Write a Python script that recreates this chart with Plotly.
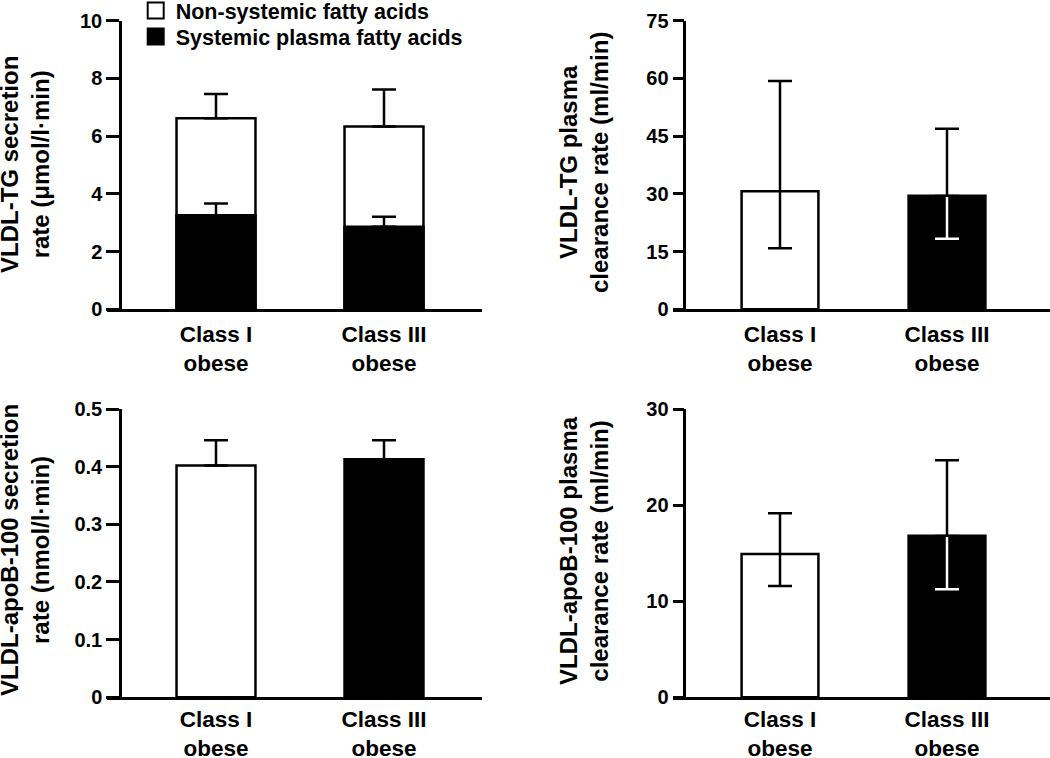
import plotly.graph_objects as go

W, H = 1050, 758
FONT = "Liberation Sans, Arial, Helvetica, sans-serif"

# ---------------- data ----------------
categories = ["Class I<br>obese", "Class III<br>obese"]
bar_fills = ["white", "black"]

# Panel A: VLDL-TG secretion rate (µmol/l·min), stacked
tg_systemic = [3.26, 2.86]
tg_systemic_err = [0.41, 0.35]
tg_nonsystemic = [3.36, 3.47]
tg_total_err = [0.84, 1.29]
ticks_a = [0, 2, 4, 6, 8, 10]

# Panel B: VLDL-TG plasma clearance rate (ml/min)
tg_clear = [30.7, 29.5]
tg_clear_err_up = [28.6, 17.4]
tg_clear_err_down = [14.85, 11.15]
ticks_b = [0, 15, 30, 45, 60, 75]

# Panel C: VLDL-apoB-100 secretion rate (nmol/l·min)
apob_secr = [0.402, 0.413]
apob_secr_err_up = [0.044, 0.033]
ticks_c = [0, 0.1, 0.2, 0.3, 0.4, 0.5]

# Panel D: VLDL-apoB-100 plasma clearance rate (ml/min)
apob_clear = [14.9, 16.8]
apob_clear_err_up = [4.25, 7.86]
apob_clear_err_down = [3.32, 5.56]
ticks_d = [0, 10, 20, 30]

legend_names = ["Non-systemic fatty acids", "Systemic plasma fatty acids"]
titles = [
    "VLDL-TG secretion<br>rate (μmol/l·min)",
    "VLDL-TG plasma<br>clearance rate (ml/min)",
    "VLDL-apoB-100 secretion<br>rate (nmol/l·min)",
    "VLDL-apoB-100 plasma<br>clearance rate (ml/min)",
]

# ---------------- styling helpers ----------------
LW = 2.5
CAP = 12
BAR_W_LEFT = 0.47
BAR_W_RIGHT = 0.46


def px(x):
    return x / W


def py(y):
    return 1 - y / H


def err_trace(xa, ya, x, y, up, down, color):
    return go.Scatter(
        x=x, y=y, xaxis=xa, yaxis=ya, mode="markers",
        marker=dict(color="rgba(0,0,0,0)", size=1),
        error_y=dict(type="data", symmetric=False, array=up, arrayminus=down,
                     color=color, thickness=LW, width=CAP),
        showlegend=False, hoverinfo="skip",
    )


fig = go.Figure()

# ----- Panel A (overlay: total white bar, then systemic black bar) -----
tg_total = [s + n for s, n in zip(tg_systemic, tg_nonsystemic)]
fig.add_trace(go.Bar(x=categories, y=tg_total, xaxis="x", yaxis="y", width=BAR_W_LEFT,
                     marker=dict(color="white", line=dict(color="black", width=LW)),
                     showlegend=False, hoverinfo="skip"))
fig.add_trace(err_trace("x", "y", categories, tg_total, tg_total_err, [0, 0], "black"))
fig.add_trace(go.Bar(x=categories, y=tg_systemic, xaxis="x", yaxis="y", width=BAR_W_LEFT,
                     marker=dict(color="black", line=dict(color="black", width=LW)),
                     showlegend=False, hoverinfo="skip"))
fig.add_trace(err_trace("x", "y", categories, tg_systemic, tg_systemic_err, [0, 0], "black"))
# legend entries (one legend per row for exact placement)
for name, fill, lg in zip(legend_names, bar_fills, ["legend", "legend2"]):
    fig.add_trace(go.Scatter(x=[None], y=[None], xaxis="x", yaxis="y", mode="markers", name=name,
                             legend=lg, showlegend=True,
                             marker=dict(symbol="square", size=16, color=fill,
                                         line=dict(color="black", width=2))))


def simple_panel(xa, ya, values, up, down, bw):
    fig.add_trace(go.Bar(x=categories, y=values, xaxis=xa, yaxis=ya, width=bw,
                         marker=dict(color=bar_fills, line=dict(color="black", width=LW)),
                         showlegend=False, hoverinfo="skip"))
    # downward parts inside black bars drawn in white
    wx = [c for c, f in zip(categories, bar_fills) if f == "black"]
    wy = [v for v, f in zip(values, bar_fills) if f == "black"]
    wd = [d for d, f in zip(down, bar_fills) if f == "black"]
    if any(wd):
        fig.add_trace(err_trace(xa, ya, wx, wy, [0] * len(wx), wd, "white"))
    bd = [d if f == "white" else 0 for d, f in zip(down, bar_fills)]
    fig.add_trace(err_trace(xa, ya, categories, values, up, bd, "black"))


simple_panel("x2", "y2", tg_clear, tg_clear_err_up, tg_clear_err_down, BAR_W_RIGHT)
simple_panel("x3", "y3", apob_secr, apob_secr_err_up, [0, 0], BAR_W_LEFT)
simple_panel("x4", "y4", apob_clear, apob_clear_err_up, apob_clear_err_down, BAR_W_RIGHT)

# ---------------- axes ----------------
left_dom = [px(107), px(482)]
right_dom = [px(673), 1.0]
left_range = [-(216 - 107) / 168, -(216 - 107) / 168 + 375 / 168]
right_range = [-(780 - 673) / 167, -(780 - 673) / 167 + 377 / 167]
top_dom = [py(309.3), py(20.7)]
bot_dom = [py(697.3), py(409)]


def xax(dom, rng, ya, standoff):
    return dict(domain=dom, anchor=ya, type="category", range=rng, automargin=False,
                showline=True, linecolor="black", linewidth=LW, ticks="",
                showgrid=False, zeroline=False, tickfont=dict(size=22.5, color="black"),
                ticklabelstandoff=standoff, fixedrange=True)


def yax(dom, pos, rng, tv, tlen):
    return dict(domain=dom, anchor="free", position=pos, range=rng, tickvals=tv,
                ticktext=[("%g" % t) for t in tv], automargin=False,
                showline=True, linecolor="black", linewidth=LW,
                ticks="outside", ticklen=tlen, tickwidth=LW, tickcolor="black",
                showgrid=False, zeroline=False, tickfont=dict(size=20, color="black"),
                ticklabelstandoff=0, fixedrange=True)


legend_common = dict(xanchor="left", yanchor="top", font=dict(size=21.5, color="black"),
                     bgcolor="rgba(0,0,0,0)", itemwidth=30)

fig.update_layout(
    template="none",
    width=W, height=H, margin=dict(l=0, r=0, t=0, b=0, autoexpand=False),
    paper_bgcolor="white", plot_bgcolor="white",
    font=dict(family=FONT, color="black", weight="bold"),
    barmode="overlay",
    xaxis=xax(left_dom, left_range, "y", 3),
    yaxis=yax(top_dom, px(120), [0, 10], ticks_a, 13),
    xaxis2=xax(right_dom, right_range, "y2", 3),
    yaxis2=yax(top_dom, px(684.3), [0, 75], ticks_b, 11),
    xaxis3=xax(left_dom, left_range, "y3", 0),
    yaxis3=yax(bot_dom, px(120), [0, 0.5], ticks_c, 13),
    xaxis4=xax(right_dom, right_range, "y4", 0),
    yaxis4=yax(bot_dom, px(684.3), [0, 30], ticks_d, 11),
    legend=dict(x=px(135.7), y=1 + 10 / H, **legend_common),
    legend2=dict(x=px(135.7), y=1 - 16 / H, **legend_common),
    showlegend=True,
)

title_pos = [(25, 165), (584, 163), (25, 550), (584, 551)]
for t, (tx, ty) in zip(titles, title_pos):
    fig.add_annotation(text=t, x=px(tx), y=py(ty), xref="paper", yref="paper",
                       xanchor="center", yanchor="middle", textangle=-90, showarrow=False,
                       font=dict(size=24, color="black"), align="center")

fig.write_html("out.html", config={"displayModeBar": False},
               post_script="document.body.style.margin='0px';")
